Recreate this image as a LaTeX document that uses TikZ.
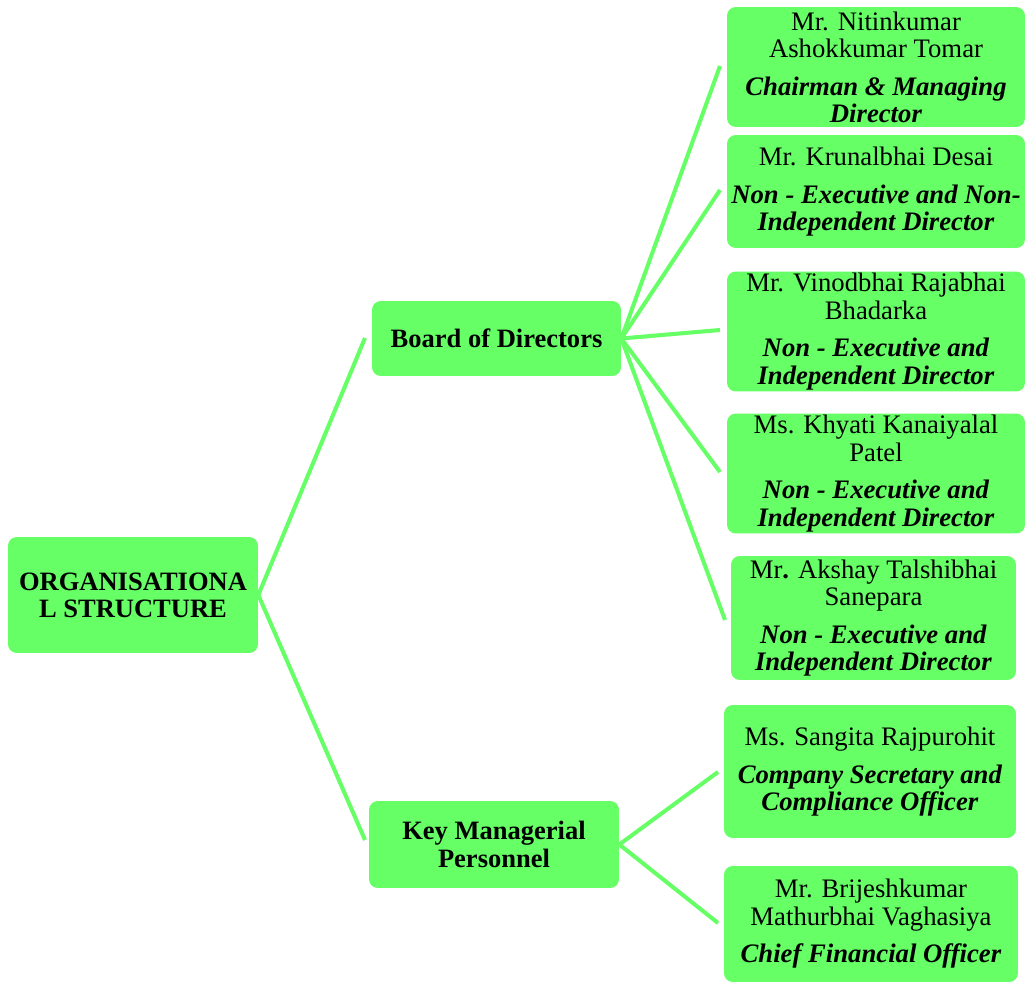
\documentclass[tikz,border=0pt]{standalone}
\usepackage{fontspec}
\setmainfont{Liberation Serif}
\usetikzlibrary{positioning,calc}
\definecolor{leafgreen}{HTML}{66FF66}

\begin{document}
\begin{tikzpicture}[
  x=0.02cm, y=-0.02cm,
  box/.style={fill=leafgreen, rounded corners=5pt, inner sep=1pt, align=center, font=\fontsize{15.1}{15.5}\selectfont\bfseries},
  member/.style={fill=leafgreen, rounded corners=5pt, inner sep=1pt, align=center, font=\fontsize{15.2}{15.5}\selectfont},
  link/.style={draw=leafgreen, line width=2.3pt}
]
  \useasboundingbox (0,0) rectangle (1025,983);

  % Nodes
  \node[box, minimum width=5cm, minimum height=2.32cm] (org) at (133,595) {ORGANISATIONA\\L STRUCTURE};
  \node[box, minimum width=4.98cm, minimum height=1.5cm] (board) at (496.5,338.5) {Board of Directors};
  \node[box, minimum width=5cm, minimum height=1.74cm] (kmp) at (494,844.5) {Key Managerial\\Personnel};

  \node[member, minimum width=5.96cm, minimum height=2.4cm] (tomar) at (876,67)
    {Mr. Nitinkumar\\Ashokkumar Tomar\\[6pt]\textbf{\textit{Chairman \& Managing}}\\\textbf{\textit{Director}}};
  \node[member, minimum width=5.96cm, minimum height=2.26cm] (desai) at (876,191.5)
    {Mr. Krunalbhai Desai\\[6pt]\textbf{\textit{Non - Executive and Non-}}\\\textbf{\textit{Independent Director}}};
  \node[member, minimum width=5.96cm, minimum height=2.34cm] (bhadarka) at (876,331.5)
    {Mr. Vinodbhai Rajabhai\\Bhadarka\\[6pt]\textbf{\textit{Non - Executive and}}\\\textbf{\textit{Independent Director}}};
  \node[member, minimum width=5.96cm, minimum height=2.34cm] (patel) at (876,473.5)
    {Ms. Khyati Kanaiyalal\\Patel\\[6pt]\textbf{\textit{Non - Executive and}}\\\textbf{\textit{Independent Director}}};
  \node[member, minimum width=5.7cm, minimum height=2.48cm] (sanepara) at (873.5,618)
    {Mr\textbf{.} Akshay Talshibhai\\Sanepara\\[6pt]\textbf{\textit{Non - Executive and}}\\\textbf{\textit{Independent Director}}};
  \node[member, minimum width=5.84cm, minimum height=2.66cm] (rajpurohit) at (870,771.5)
    {Ms. Sangita Rajpurohit\\[6pt]\textbf{\textit{Company Secretary and}}\\\textbf{\textit{Compliance Officer}}};
  \node[member, minimum width=5.88cm, minimum height=2.32cm] (vaghasiya) at (871,924)
    {Mr. Brijeshkumar\\Mathurbhai Vaghasiya\\[6pt]\textbf{\textit{Chief Financial Officer}}};

  % Line ends
  \coordinate (board-in) at (365,338);
  \coordinate (kmp-in) at (365,840);
  \coordinate (tomar-in) at (720,66);
  \coordinate (desai-in) at (720,190);
  \coordinate (bhadarka-in) at (720,330);
  \coordinate (patel-in) at (720,472);
  \coordinate (sanepara-in) at (725,620);
  \coordinate (rajpurohit-in) at (718,772);
  \coordinate (vaghasiya-in) at (718,923);

  % Lines
  \draw[link] (org.east) -- (board-in);
  \draw[link] (org.east) -- (kmp-in);
  \foreach \m in {tomar,desai,bhadarka,patel,sanepara}
    \draw[link] (board.east) -- (\m-in);
  \draw[link] (kmp.east) -- (rajpurohit-in);
  \draw[link] (kmp.east) -- (vaghasiya-in);
\end{tikzpicture}
\end{document}
